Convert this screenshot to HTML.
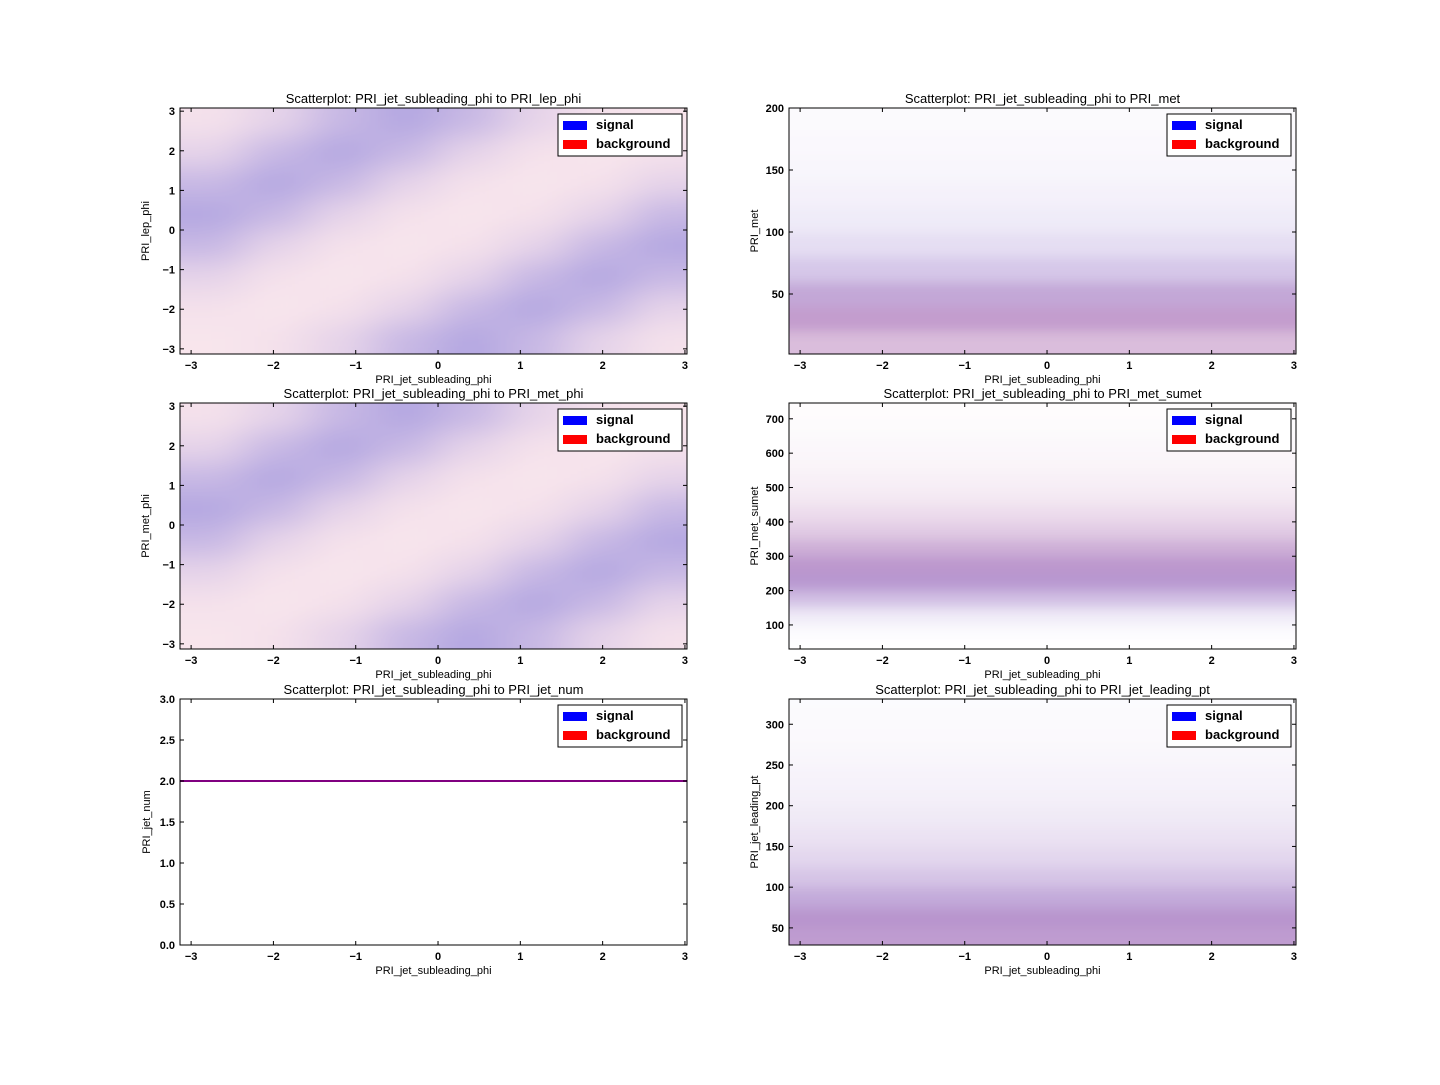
<!DOCTYPE html>
<html><head><meta charset="utf-8">
<style>
html,body{margin:0;padding:0;background:#fff;}
svg text{font-family:"Liberation Sans","DejaVu Sans",sans-serif;}
</style></head>
<body>
<svg id="fig" width="1440" height="1080" viewBox="0 0 1440 1080" xmlns="http://www.w3.org/2000/svg">
<defs>
<filter id="blurA" x="-10%" y="-10%" width="120%" height="120%"><feGaussianBlur stdDeviation="22 12"/></filter>
<filter id="blurB" x="-10%" y="-10%" width="120%" height="120%"><feGaussianBlur stdDeviation="6"/></filter>
</defs>
</svg>
<script>
// ---- data: phi-vs-phi density (rows top->bottom, cols left->right)
const phiXEdges = [-3.14,-2.355,-1.57,-0.785,0,0.785,1.57,2.355,3.14];
const phiYEdges = [3.14,2.355,1.57,0.785,0,-0.785,-1.57,-2.355,-3.14];
const lepPhiSignal = [
 [.15,.35,.75,1,.75,.35,.15,.1],
 [.35,.75,1,.75,.35,.15,.1,.15],
 [.75,1,.75,.35,.15,.1,.15,.35],
 [1,.75,.35,.15,.1,.15,.35,.75],
 [.75,.35,.15,.1,.15,.35,.75,1],
 [.35,.15,.1,.15,.35,.75,1,.75],
 [.15,.1,.15,.35,.75,1,.75,.35],
 [.1,.15,.35,.75,1,.75,.35,.15]];
const lepPhiBackground = [
 [.4,.45,.55,.6,.55,.45,.4,.38],
 [.45,.55,.6,.55,.45,.4,.38,.4],
 [.55,.6,.55,.45,.4,.38,.4,.45],
 [.6,.55,.45,.4,.38,.4,.45,.55],
 [.55,.45,.4,.38,.4,.45,.55,.6],
 [.45,.4,.38,.4,.45,.55,.6,.55],
 [.4,.38,.4,.45,.55,.6,.55,.45],
 [.38,.4,.45,.55,.6,.55,.45,.4]];
const metPhiSignal = lepPhiSignal;
const metPhiBackground = lepPhiBackground;
// ---- data: 1D y-profiles
const metEdges = [0,20,40,60,80,100,120,140,160,180,200];
const metSignal = [.5,.8,.8,.55,.35,.22,.15,.1,.07,.05];
const metBackground = [.7,1,.8,.45,.25,.15,.1,.07,.05,.04];
const sumetEdges = [0,50,100,150,200,250,300,350,400,450,500,550,600,650,700,750];
const sumetSignal = [0,.03,.2,.6,.95,.9,.65,.4,.25,.15,.1,.07,.05,.03,.02];
const sumetBackground = [0,.02,.15,.55,.95,1,.8,.55,.38,.25,.17,.12,.08,.05,.04];
const ptEdges = [25,50,75,100,125,150,175,200,225,250,275,300,325,350];
const ptSignal = [.85,.95,.8,.55,.38,.27,.2,.15,.11,.08,.06,.05,.04];
const ptBackground = [.95,1,.75,.5,.35,.25,.18,.13,.1,.07,.05,.04,.03];
const jetNumValue = [2];
// ---- ticks
const phiXTicks = [-3,-2,-1,0,1,2,3];
const phiYTicks = [-3,-2,-1,0,1,2,3];
const metYTicks = [50,100,150,200];
const sumetYTicks = [100,200,300,400,500,600,700];
const jetYTicks = [0,0.5,1,1.5,2,2.5,3];
const ptYTicks = [50,100,150,200,250,300];

const NS="http://www.w3.org/2000/svg";
const svg=document.getElementById('fig');
function mk(tag,attrs,parent){const e=document.createElementNS(NS,tag);for(const k in attrs)e.setAttribute(k,attrs[k]);(parent||svg).appendChild(e);return e;}
function color(s,b){
  const r=Math.round(255-75*s), g=Math.round(255-55*(s+b)), bl=Math.round(255-50*b);
  return `rgb(${Math.max(0,r)},${Math.max(0,g)},${Math.max(0,bl)})`;
}
function fmt(v,dec){const s=dec?v.toFixed(1):String(v);return v<0?'\u2212'+s.slice(1):s;}

const panels=[
 {id:'lep-phi',x0:180,y0:108,xmin:-3.135,xmax:3.025,ymin:-3.13,ymax:3.08,title:'Scatterplot: PRI_jet_subleading_phi to PRI_lep_phi',ylabel:'PRI_lep_phi',yt:phiYTicks,kind:'grid',sig:lepPhiSignal,bg:lepPhiBackground},
 {id:'met',x0:789,y0:108,xmin:-3.135,xmax:3.025,ymin:1.6,ymax:200,title:'Scatterplot: PRI_jet_subleading_phi to PRI_met',ylabel:'PRI_met',yt:metYTicks,kind:'prof',edges:metEdges,sig:metSignal,bg:metBackground},
 {id:'met-phi',x0:180,y0:403,xmin:-3.135,xmax:3.025,ymin:-3.13,ymax:3.08,title:'Scatterplot: PRI_jet_subleading_phi to PRI_met_phi',ylabel:'PRI_met_phi',yt:phiYTicks,kind:'grid',sig:metPhiSignal,bg:metPhiBackground},
 {id:'met-sumet',x0:789,y0:403,xmin:-3.135,xmax:3.025,ymin:30,ymax:746,title:'Scatterplot: PRI_jet_subleading_phi to PRI_met_sumet',ylabel:'PRI_met_sumet',yt:sumetYTicks,kind:'prof',edges:sumetEdges,sig:sumetSignal,bg:sumetBackground},
 {id:'jet-num',x0:180,y0:699,xmin:-3.135,xmax:3.025,ymin:0,ymax:3,title:'Scatterplot: PRI_jet_subleading_phi to PRI_jet_num',ylabel:'PRI_jet_num',yt:jetYTicks,kind:'line',dec:true},
 {id:'leading-pt',x0:789,y0:699,xmin:-3.135,xmax:3.025,ymin:29,ymax:331,title:'Scatterplot: PRI_jet_subleading_phi to PRI_jet_leading_pt',ylabel:'PRI_jet_leading_pt',yt:ptYTicks,kind:'prof',edges:ptEdges,sig:ptSignal,bg:ptBackground}
];
const PW=507,PH=246;

panels.forEach((p,i)=>{
  const g=mk('g',{});
  
  
  const sx=v=>p.x0+(v-p.xmin)/(p.xmax-p.xmin)*PW;
  const sy=v=>p.y0+PH-(v-p.ymin)/(p.ymax-p.ymin)*PH;
  const cid='clip'+i;
  const cp=mk('clipPath',{id:cid},g);mk('rect',{x:p.x0,y:p.y0,width:PW,height:PH},cp);
  const cg=mk('g',{'clip-path':`url(#${cid})`},g);
  const marks=mk('g',{},cg);
  
  
  const E=60;
  if(p.kind==='grid'){
    marks.setAttribute('filter','url(#blurA)');
    const nr=p.sig.length,nc=p.sig[0].length;
    for(let r=0;r<nr;r++)for(let c=0;c<nc;c++){
      let x1=sx(phiXEdges[c]),x2=sx(phiXEdges[c+1]),y1=sy(phiYEdges[r]),y2=sy(phiYEdges[r+1]);
      if(c===0)x1-=E; if(c===nc-1)x2+=E; if(r===0)y1-=E; if(r===nr-1)y2+=E;
      const rc=mk('rect',{x:x1,y:y1,width:x2-x1+0.5,height:y2-y1+0.5,fill:color(p.sig[r][c],p.bg[r][c])},marks);
      
      
    }
  } else if(p.kind==='prof'){
    marks.setAttribute('filter','url(#blurB)');
    const n=p.sig.length;
    for(let k=0;k<n;k++){
      let yb=sy(p.edges[k]),yt=sy(p.edges[k+1]);
      if(k===0)yb+=E; if(k===n-1)yt-=E;
      const rc=mk('rect',{x:p.x0-E,y:yt,width:PW+2*E,height:yb-yt+0.5,fill:color(p.sig[k],p.bg[k])},marks);
      
      
    }
  } else {
    const ln=mk('line',{x1:p.x0,x2:p.x0+PW,y1:sy(jetNumValue[0]),y2:sy(jetNumValue[0]),stroke:'#800080','stroke-width':2},marks);
    
    
  }
  const frame=mk('rect',{x:p.x0,y:p.y0,width:PW,height:PH,fill:'none',stroke:'#000','stroke-width':1},g);
  
  
  phiXTicks.forEach(t=>{
    const x=sx(t);
    mk('line',{x1:x,x2:x,y1:p.y0+PH,y2:p.y0+PH-4,stroke:'#000'},g);
    mk('line',{x1:x,x2:x,y1:p.y0,y2:p.y0+4,stroke:'#000'},g);
    const tx=mk('text',{x:x,y:p.y0+PH+15,'text-anchor':'middle','font-size':11,'font-weight':'bold'},g);
    tx.textContent=fmt(t);
    
    
  });
  p.yt.forEach(t=>{
    const y=sy(t);
    mk('line',{x1:p.x0,x2:p.x0+4,y1:y,y2:y,stroke:'#000'},g);
    mk('line',{x1:p.x0+PW,x2:p.x0+PW-4,y1:y,y2:y,stroke:'#000'},g);
    const tx=mk('text',{x:p.x0-5,y:y+4,'text-anchor':'end','font-size':11,'font-weight':'bold'},g);
    tx.textContent=fmt(t,p.dec);
    
    
  });
  const ti=mk('text',{x:p.x0+PW/2,y:p.y0-5,'text-anchor':'middle','font-size':13},g);
  ti.textContent=p.title;
  
  
  const xl=mk('text',{x:p.x0+PW/2,y:p.y0+PH+29,'text-anchor':'middle','font-size':11},g);
  xl.textContent='PRI_jet_subleading_phi';
  
  
  const yx=p.x0-(p.kind==='line'?30:31), yy=p.y0+PH/2;
  const yl=mk('text',{x:yx,y:yy,'text-anchor':'middle','font-size':11,transform:`rotate(-90 ${yx} ${yy})`},g);
  yl.textContent=p.ylabel;
  
  
  const lg=mk('g',{},g);
  
  
  const lx=p.x0+PW-129, ly=p.y0+6;
  mk('rect',{x:lx,y:ly,width:124,height:42,fill:'#fff',stroke:'#000'},lg);
  [['signal','#0000ff'],['background','#ff0000']].forEach((e,k)=>{
    const le=mk('g',{},lg);
    
    
    mk('rect',{x:lx+5,y:ly+7+k*19,width:24,height:9,fill:e[1]},le);
    const t=mk('text',{x:lx+38,y:ly+15+k*19,'font-size':13,'font-weight':'bold'},le);
    t.textContent=e[0];
  });
});
</script>
</body></html>
